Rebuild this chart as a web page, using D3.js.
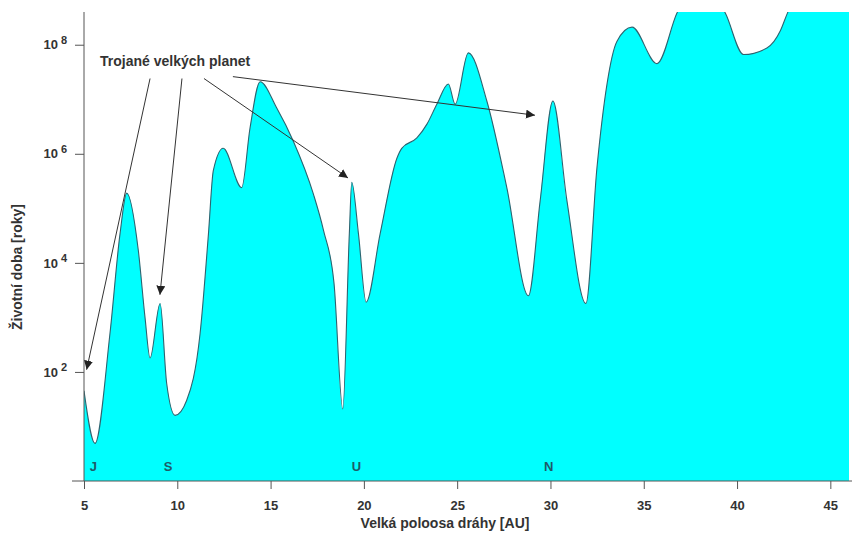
<!DOCTYPE html>
<html>
<head>
<meta charset="utf-8">
<script src="https://cdn.jsdelivr.net/npm/d3@7"></script>
<style>
  body { margin: 0; background: #fff; }
  text { font-family: "Liberation Sans", Arial, sans-serif; font-weight: bold; }
</style>
</head>
<body>
<div id="chart"></div>
<script>
// semi-major axis [AU] and lifetime [years]
var axisAU = [5.0, 5.59, 6.39, 6.93, 7.29, 7.91, 8.27, 8.54, 9.08, 9.43, 9.88, 10.5,
    11.22, 11.67, 11.93, 12.46, 13.45, 13.9, 14.44, 15.33, 16.22, 17.3, 17.84, 18.4,
    18.87, 19.22, 19.35, 19.71, 20.12, 20.87, 21.77, 22.03, 22.84, 23.38, 23.91, 24.53,
    24.89, 25.6, 26.59, 27.66, 28.82, 29.45, 30.13, 30.88, 31.9, 32.49, 33.03, 33.56,
    34.37, 35.71, 36.78, 37.9, 39.37, 40.35, 41.6, 42.32, 42.7, 44.0, 46.0];
var lifetime = [45, 4.9, 500, 34000, 190000, 17000, 1000, 180, 1800, 62, 16, 30,
    500, 34000, 490000, 1.26e6, 2.4e5, 3.0e6, 2.1e7, 6.9e6, 1.7e6, 1.8e5, 39000, 4200,
    21, 34000, 3.0e5, 34000, 1900, 34000, 8.3e5, 1.26e6, 1.95e6, 3.5e6, 8.1e6, 1.9e7,
    8.1e6, 7.1e7, 9.3e6, 2.4e5, 2500, 1.4e5, 9.3e6, 1.4e5, 1800, 5.5e5, 1.9e7, 1.15e8,
    2.1e8, 4.5e7, 3.8e8, 1.6e9, 3.8e8, 6.6e7, 8.7e7, 1.8e8, 3.8e8, 2e9, 3.2e9];

var xTicks = [5, 10, 15, 20, 25, 30, 35, 40, 45];
var yTicks = [1e2, 1e4, 1e6, 1e8];

var planetNames = ["J", "S", "U", "N"];
var planetAU = [5.5, 9.5, 19.6, 29.9];

// trojan arrows: start and tip in data units
var arrowFromAU = [8.54, 10.25, 11.43, 12.98];
var arrowFromVal = [2.4e7, 2.4e7, 2.4e7, 2.6e7];
var arrowToAU = [5.14, 9.07, 19.15, 29.17];
var arrowToVal = [110, 2600, 3.6e5, 5.1e6];

function draw(){
    var width = 852, height = 539;
    var pLeft = 84, pRight = 849, pTop = 12, pBottom = 481;

    var svg = d3.select("#chart").append("svg")
        .attr("width", width)
        .attr("height", height);

    var x = d3.scaleLinear().domain([5, 46]).range([pLeft, pRight]);
    var y = d3.scaleLog().domain([1, Math.pow(10, 8.6)]).range([pBottom, pTop]);

    var data = axisAU.map(function(d, i){ return {a: d, v: lifetime[i]}; });

    var defs = svg.append("defs");
    defs.append("clipPath").attr("id", "plotClip")
        .append("rect")
        .attr("x", pLeft).attr("y", pTop)
        .attr("width", pRight - pLeft).attr("height", pBottom - pTop);

    defs.append("marker")
        .attr("id", "head")
        .attr("viewBox", "0 0 10 10")
        .attr("refX", 10).attr("refY", 5)
        .attr("markerWidth", 9).attr("markerHeight", 9)
        .attr("markerUnits", "userSpaceOnUse")
        .attr("orient", "auto")
        .append("path")
        .attr("d", "M0,0 L10,5 L0,10 z")
        .attr("fill", "#222");

    var area = d3.area()
        .x(function(d){ return x(d.a); })
        .y0(pBottom)
        .y1(function(d){ return y(d.v); })
        .curve(d3.curveMonotoneX);

    var line = d3.line()
        .x(function(d){ return x(d.a); })
        .y(function(d){ return y(d.v); })
        .curve(d3.curveMonotoneX);

    var plot = svg.append("g").attr("clip-path", "url(#plotClip)");
    plot.append("path")
        .datum(data)
        .attr("d", area)
        .attr("fill", "#00ffff");
    plot.append("path")
        .datum(data)
        .attr("d", line)
        .attr("fill", "none")
        .attr("stroke", "#2d6470")
        .attr("stroke-width", 1.1);

    // planet labels
    svg.selectAll(".planet")
        .data(planetNames)
        .enter()
        .append("text")
        .attr("class", "planet")
        .attr("x", function(d, i){ return x(planetAU[i]); })
        .attr("y", 471)
        .attr("text-anchor", "middle")
        .attr("fill", "#1f5a68")
        .style("font-size", "13px")
        .text(function(d){ return d; });

    // x axis
    var xAxis = svg.append("g")
        .attr("transform", "translate(0," + pBottom + ")")
        .call(d3.axisBottom(x).tickValues(xTicks).tickSize(8).tickSizeOuter(0).tickPadding(12));
    xAxis.select(".domain").remove();
    xAxis.append("line")
        .attr("x1", 72).attr("x2", 852)
        .attr("stroke", "#555");
    xAxis.selectAll(".tick line").attr("stroke", "#555");
    xAxis.selectAll(".tick text")
        .attr("fill", "#333")
        .style("font-size", "13px");

    // y axis
    var yAxis = svg.append("g")
        .attr("transform", "translate(" + pLeft + ",0)")
        .call(d3.axisLeft(y).tickValues(yTicks).tickSize(9).tickSizeOuter(0).tickFormat(""));
    yAxis.select(".domain").remove();
    yAxis.append("line")
        .attr("y1", pTop).attr("y2", pBottom)
        .attr("stroke", "#555");
    yAxis.selectAll(".tick line").attr("stroke", "#555");
    yAxis.selectAll(".tick").each(function(d){
        var t = d3.select(this).append("text")
            .attr("x", -17)
            .attr("dy", "0.32em")
            .attr("text-anchor", "end")
            .attr("fill", "#333")
            .style("font-size", "13px");
        t.append("tspan").text("10");
        t.append("tspan")
            .attr("dx", 3)
            .attr("dy", "-0.5em")
            .style("font-size", "11px")
            .text(Math.round(Math.log10(d)));
    });

    // axis titles
    svg.append("text")
        .attr("x", 445)
        .attr("y", 528)
        .attr("text-anchor", "middle")
        .attr("fill", "#333")
        .style("font-size", "14px")
        .text("Velká poloosa dráhy [AU]");

    svg.append("text")
        .attr("transform", "translate(22,267) rotate(-90)")
        .attr("text-anchor", "middle")
        .attr("fill", "#333")
        .style("font-size", "14px")
        .text("Životní doba [roky]");

    // trojan annotation
    svg.append("text")
        .attr("x", x(5.86))
        .attr("y", y(4.1e7))
        .attr("fill", "#333")
        .style("font-size", "14px")
        .text("Trojané velkých planet");

    svg.selectAll(".arrow")
        .data(arrowFromAU)
        .enter()
        .append("line")
        .attr("class", "arrow")
        .attr("x1", function(d){ return x(d); })
        .attr("y1", function(d, i){ return y(arrowFromVal[i]); })
        .attr("x2", function(d, i){ return x(arrowToAU[i]); })
        .attr("y2", function(d, i){ return y(arrowToVal[i]); })
        .attr("stroke", "#333")
        .attr("stroke-width", 1)
        .attr("marker-end", "url(#head)");
}

draw();
</script>
</body>
</html>
